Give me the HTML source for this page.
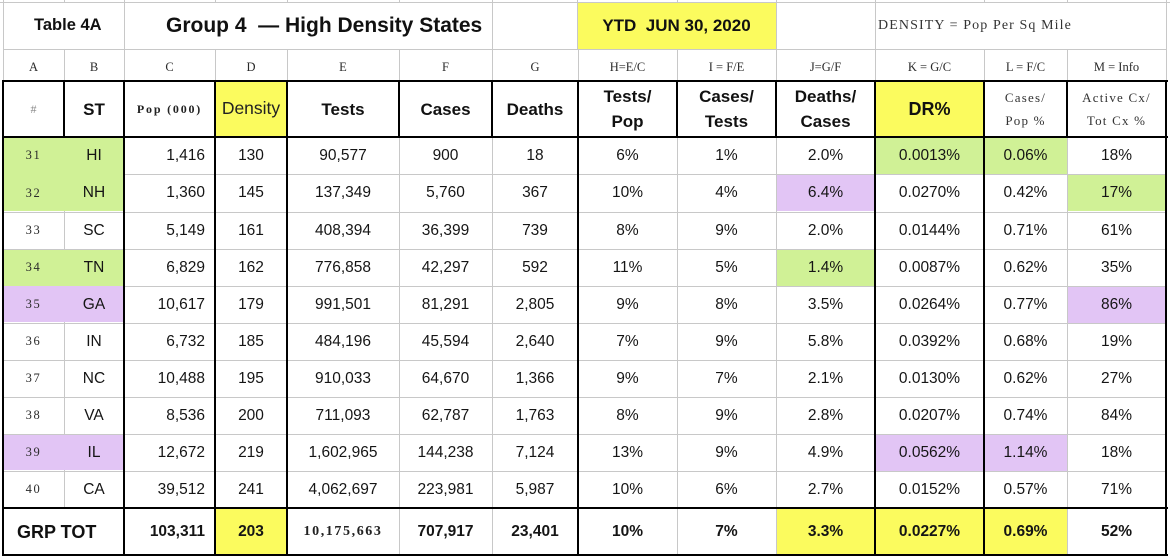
<!DOCTYPE html>
<html><head><meta charset="utf-8">
<style>
html,body{margin:0;padding:0;background:#fff;}
#w{position:relative;width:1170px;height:558px;overflow:hidden;background:#fff;}
.g{position:absolute;background:#c8c8c8;}
.k{position:absolute;background:#000;}
.f{position:absolute;}
.gr{background:#d0f196;}
.pu{background:#e2c5f5;}
.ye{background:#fbfb5e;}
.row{position:absolute;left:0;width:1170px;}
.c{position:absolute;top:0;bottom:0;display:flex;align-items:center;justify-content:center;font-family:"Liberation Sans",Arial,sans-serif;font-size:15.5px;color:#151515;white-space:nowrap;line-height:1;}
.rt{justify-content:flex-end;padding-right:10px;box-sizing:border-box;}
.A{left:3px;width:61px}.B{left:64px;width:60px}.C{left:124px;width:91px}.D{left:215px;width:72px}
.E{left:287px;width:112px}.F{left:399px;width:93px}.G{left:492px;width:86px}.H{left:578px;width:99px}
.I{left:677px;width:99px}.J{left:776px;width:99px}.K{left:875px;width:109px}.L{left:984px;width:83px}.M{left:1067px;width:99px}
.sn{font-family:"Liberation Serif","Times New Roman",serif;font-size:12.5px;letter-spacing:1.6px;color:#2a2a2a;}
.hb{font-weight:bold;font-size:17px;color:#111;}
.two{flex-direction:column;line-height:25px;}
.ser2{font-family:"Liberation Serif","Times New Roman",serif;font-size:13px;letter-spacing:1.2px;color:#333;flex-direction:column;line-height:23px;}
.tb{font-weight:bold;font-size:15.5px;}
.lt{font-family:"Liberation Serif","Times New Roman",serif;font-size:12.5px;color:#2a2a2a;padding-top:4px;box-sizing:border-box;}
</style></head><body><div id="w">

<!-- fills -->
<div class="f ye" style="left:578px;top:3px;width:198px;height:46px"></div>
<div class="f ye" style="left:216px;top:82px;width:70px;height:54px"></div>
<div class="f ye" style="left:876px;top:82px;width:108px;height:54px"></div>

<!-- gray grid lines -->
<div class="g" style="left:0;top:2px;width:1170px;height:1px"></div>
<div class="g" style="left:3px;top:0;width:1px;height:81px"></div>
<div class="g" style="left:64px;top:0;width:1px;height:3px"></div>
<div class="g" style="left:124px;top:0;width:1px;height:49px"></div>
<div class="g" style="left:215px;top:0;width:1px;height:3px"></div>
<div class="g" style="left:287px;top:0;width:1px;height:3px"></div>
<div class="g" style="left:399px;top:0;width:1px;height:3px"></div>
<div class="g" style="left:492px;top:0;width:1px;height:49px"></div>
<div class="g" style="left:577px;top:0;width:1px;height:49px"></div>
<div class="g" style="left:677px;top:0;width:1px;height:3px"></div>
<div class="g" style="left:776px;top:0;width:1px;height:49px"></div>
<div class="g" style="left:875px;top:0;width:1px;height:49px"></div>
<div class="g" style="left:984px;top:0;width:1px;height:3px"></div>
<div class="g" style="left:1067px;top:0;width:1px;height:3px"></div>
<div class="g" style="left:1166px;top:0;width:1px;height:81px"></div>
<div class="g" style="left:3px;top:49px;width:1164px;height:1px"></div>
<!-- letter row verticals -->
<div class="g" style="left:64px;top:49px;width:1px;height:32px"></div>
<div class="g" style="left:124px;top:49px;width:1px;height:32px"></div>
<div class="g" style="left:215px;top:49px;width:1px;height:32px"></div>
<div class="g" style="left:287px;top:49px;width:1px;height:32px"></div>
<div class="g" style="left:399px;top:49px;width:1px;height:32px"></div>
<div class="g" style="left:492px;top:49px;width:1px;height:32px"></div>
<div class="g" style="left:578px;top:49px;width:1px;height:32px"></div>
<div class="g" style="left:677px;top:49px;width:1px;height:32px"></div>
<div class="g" style="left:776px;top:49px;width:1px;height:32px"></div>
<div class="g" style="left:875px;top:49px;width:1px;height:32px"></div>
<div class="g" style="left:984px;top:49px;width:1px;height:32px"></div>
<div class="g" style="left:1067px;top:49px;width:1px;height:32px"></div>
<!-- data horizontals -->
<div class="g" style="left:3px;top:174px;width:1164px;height:1px"></div>
<div class="g" style="left:3px;top:212px;width:1164px;height:1px"></div>
<div class="g" style="left:3px;top:249px;width:1164px;height:1px"></div>
<div class="g" style="left:3px;top:286px;width:1164px;height:1px"></div>
<div class="g" style="left:3px;top:323px;width:1164px;height:1px"></div>
<div class="g" style="left:3px;top:360px;width:1164px;height:1px"></div>
<div class="g" style="left:3px;top:397px;width:1164px;height:1px"></div>
<div class="g" style="left:3px;top:434px;width:1164px;height:1px"></div>
<div class="g" style="left:3px;top:471px;width:1164px;height:1px"></div>
<!-- data verticals -->
<div class="g" style="left:64px;top:137px;width:1px;height:371px"></div>
<div class="g" style="left:399px;top:137px;width:1px;height:418px"></div>
<div class="g" style="left:492px;top:137px;width:1px;height:418px"></div>
<div class="g" style="left:677px;top:137px;width:1px;height:418px"></div>
<div class="g" style="left:776px;top:137px;width:1px;height:418px"></div>
<div class="g" style="left:1067px;top:137px;width:1px;height:418px"></div>

<!-- cell fills in data / total -->
<div class="f gr" style="left:4px;top:138px;width:119px;height:73px"></div>
<div class="f gr" style="left:4px;top:250px;width:119px;height:36px"></div>
<div class="f pu" style="left:4px;top:286px;width:119px;height:36px"></div>
<div class="f pu" style="left:4px;top:435px;width:119px;height:35px"></div>
<div class="f gr" style="left:876px;top:138px;width:108px;height:36px"></div>
<div class="f gr" style="left:985px;top:138px;width:82px;height:36px"></div>
<div class="f pu" style="left:777px;top:175px;width:98px;height:36px"></div>
<div class="f gr" style="left:1068px;top:175px;width:98px;height:36px"></div>
<div class="f gr" style="left:777px;top:250px;width:98px;height:36px"></div>
<div class="f pu" style="left:1068px;top:287px;width:98px;height:36px"></div>
<div class="f pu" style="left:876px;top:435px;width:108px;height:36px"></div>
<div class="f pu" style="left:985px;top:435px;width:82px;height:36px"></div>
<div class="f ye" style="left:216px;top:509px;width:70px;height:46px"></div>
<div class="f ye" style="left:777px;top:509px;width:98px;height:46px"></div>
<div class="f ye" style="left:876px;top:509px;width:108px;height:46px"></div>
<div class="f ye" style="left:985px;top:509px;width:82px;height:46px"></div>

<!-- black lines -->
<div class="k" style="left:2px;top:80px;width:1166px;height:2px"></div>
<div class="k" style="left:2px;top:136px;width:1166px;height:2px"></div>
<div class="k" style="left:2px;top:507px;width:1166px;height:2px"></div>
<div class="k" style="left:2px;top:554px;width:1166px;height:2px"></div>
<div class="k" style="left:2px;top:80px;width:2px;height:476px"></div>
<div class="k" style="left:123px;top:80px;width:2px;height:476px"></div>
<div class="k" style="left:214px;top:80px;width:2px;height:476px"></div>
<div class="k" style="left:286px;top:80px;width:2px;height:476px"></div>
<div class="k" style="left:577px;top:80px;width:2px;height:476px"></div>
<div class="k" style="left:874px;top:80px;width:2px;height:476px"></div>
<div class="k" style="left:983px;top:80px;width:2px;height:476px"></div>
<div class="k" style="left:1165px;top:80px;width:2px;height:476px"></div>
<div class="k" style="left:63px;top:80px;width:2px;height:57px"></div>
<div class="k" style="left:398px;top:80px;width:2px;height:57px"></div>
<div class="k" style="left:491px;top:80px;width:2px;height:57px"></div>
<div class="k" style="left:676px;top:80px;width:2px;height:57px"></div>
<div class="k" style="left:775px;top:80px;width:2px;height:57px"></div>
<div class="k" style="left:1066px;top:80px;width:2px;height:57px"></div>

<!-- title row -->
<div class="row" style="top:2px;height:47px">
  <div class="c" style="left:34px;justify-content:flex-start;font-weight:bold;font-size:16.5px;color:#111">Table 4A</div>
  <div class="c" style="left:166px;justify-content:flex-start;font-weight:bold;font-size:21px;color:#111">Group 4 &nbsp;— High Density States</div>
  <div class="c" style="left:577px;width:199px;font-weight:bold;font-size:17px;color:#111">YTD &nbsp;JUN 30, 2020</div>
  <div class="c" style="left:878px;justify-content:flex-start;font-family:'Liberation Serif','Times New Roman',serif;font-size:14px;letter-spacing:1.1px;color:#333">DENSITY = Pop Per Sq Mile</div>
</div>

<!-- letter row -->
<div class="row" style="top:49px;height:32px">
  <div class="c lt A">A</div><div class="c lt B">B</div><div class="c lt C">C</div><div class="c lt D">D</div>
  <div class="c lt E">E</div><div class="c lt F">F</div><div class="c lt G">G</div><div class="c lt H">H=E/C</div>
  <div class="c lt I">I = F/E</div><div class="c lt J">J=G/F</div><div class="c lt K">K = G/C</div>
  <div class="c lt L">L = F/C</div><div class="c lt M">M = Info</div>
</div>

<!-- header row -->
<div class="row" style="top:81px;height:56px">
  <div class="c A" style="font-family:'Liberation Serif',serif;font-size:12px;color:#888">#</div>
  <div class="c B hb">ST</div>
  <div class="c C" style="font-family:'Liberation Serif',serif;font-weight:bold;font-size:12px;letter-spacing:1.8px;color:#222">Pop (000)</div>
  <div class="c D" style="font-size:17.5px;color:#222">Density</div>
  <div class="c E hb">Tests</div>
  <div class="c F hb">Cases</div>
  <div class="c G hb">Deaths</div>
  <div class="c H hb two"><span>Tests/</span><span>Pop</span></div>
  <div class="c I hb two"><span>Cases/</span><span>Tests</span></div>
  <div class="c J hb two"><span>Deaths/</span><span>Cases</span></div>
  <div class="c K hb" style="font-size:18px">DR%</div>
  <div class="c L ser2"><span>Cases/</span><span>Pop %</span></div>
  <div class="c M ser2"><span>Active Cx/</span><span>Tot Cx %</span></div>
</div>

<!-- data rows -->
<div class="row" style="top:137px;height:37px">
  <div class="c A sn">31</div><div class="c B">HI</div><div class="c C rt">1,416</div><div class="c D">130</div>
  <div class="c E">90,577</div><div class="c F">900</div><div class="c G">18</div><div class="c H">6%</div>
  <div class="c I">1%</div><div class="c J">2.0%</div><div class="c K">0.0013%</div><div class="c L">0.06%</div><div class="c M">18%</div>
</div>
<div class="row" style="top:174px;height:38px">
  <div class="c A sn">32</div><div class="c B">NH</div><div class="c C rt">1,360</div><div class="c D">145</div>
  <div class="c E">137,349</div><div class="c F">5,760</div><div class="c G">367</div><div class="c H">10%</div>
  <div class="c I">4%</div><div class="c J">6.4%</div><div class="c K">0.0270%</div><div class="c L">0.42%</div><div class="c M">17%</div>
</div>
<div class="row" style="top:212px;height:37px">
  <div class="c A sn">33</div><div class="c B">SC</div><div class="c C rt">5,149</div><div class="c D">161</div>
  <div class="c E">408,394</div><div class="c F">36,399</div><div class="c G">739</div><div class="c H">8%</div>
  <div class="c I">9%</div><div class="c J">2.0%</div><div class="c K">0.0144%</div><div class="c L">0.71%</div><div class="c M">61%</div>
</div>
<div class="row" style="top:249px;height:37px">
  <div class="c A sn">34</div><div class="c B">TN</div><div class="c C rt">6,829</div><div class="c D">162</div>
  <div class="c E">776,858</div><div class="c F">42,297</div><div class="c G">592</div><div class="c H">11%</div>
  <div class="c I">5%</div><div class="c J">1.4%</div><div class="c K">0.0087%</div><div class="c L">0.62%</div><div class="c M">35%</div>
</div>
<div class="row" style="top:286px;height:37px">
  <div class="c A sn">35</div><div class="c B">GA</div><div class="c C rt">10,617</div><div class="c D">179</div>
  <div class="c E">991,501</div><div class="c F">81,291</div><div class="c G">2,805</div><div class="c H">9%</div>
  <div class="c I">8%</div><div class="c J">3.5%</div><div class="c K">0.0264%</div><div class="c L">0.77%</div><div class="c M">86%</div>
</div>
<div class="row" style="top:323px;height:37px">
  <div class="c A sn">36</div><div class="c B">IN</div><div class="c C rt">6,732</div><div class="c D">185</div>
  <div class="c E">484,196</div><div class="c F">45,594</div><div class="c G">2,640</div><div class="c H">7%</div>
  <div class="c I">9%</div><div class="c J">5.8%</div><div class="c K">0.0392%</div><div class="c L">0.68%</div><div class="c M">19%</div>
</div>
<div class="row" style="top:360px;height:37px">
  <div class="c A sn">37</div><div class="c B">NC</div><div class="c C rt">10,488</div><div class="c D">195</div>
  <div class="c E">910,033</div><div class="c F">64,670</div><div class="c G">1,366</div><div class="c H">9%</div>
  <div class="c I">7%</div><div class="c J">2.1%</div><div class="c K">0.0130%</div><div class="c L">0.62%</div><div class="c M">27%</div>
</div>
<div class="row" style="top:397px;height:37px">
  <div class="c A sn">38</div><div class="c B">VA</div><div class="c C rt">8,536</div><div class="c D">200</div>
  <div class="c E">711,093</div><div class="c F">62,787</div><div class="c G">1,763</div><div class="c H">8%</div>
  <div class="c I">9%</div><div class="c J">2.8%</div><div class="c K">0.0207%</div><div class="c L">0.74%</div><div class="c M">84%</div>
</div>
<div class="row" style="top:434px;height:37px">
  <div class="c A sn">39</div><div class="c B">IL</div><div class="c C rt">12,672</div><div class="c D">219</div>
  <div class="c E">1,602,965</div><div class="c F">144,238</div><div class="c G">7,124</div><div class="c H">13%</div>
  <div class="c I">9%</div><div class="c J">4.9%</div><div class="c K">0.0562%</div><div class="c L">1.14%</div><div class="c M">18%</div>
</div>
<div class="row" style="top:471px;height:37px">
  <div class="c A sn">40</div><div class="c B">CA</div><div class="c C rt">39,512</div><div class="c D">241</div>
  <div class="c E">4,062,697</div><div class="c F">223,981</div><div class="c G">5,987</div><div class="c H">10%</div>
  <div class="c I">6%</div><div class="c J">2.7%</div><div class="c K">0.0152%</div><div class="c L">0.57%</div><div class="c M">71%</div>
</div>

<!-- total row -->
<div class="row" style="top:508px;height:47px">
  <div class="c" style="left:17px;justify-content:flex-start;font-weight:bold;font-size:18px;color:#111">GRP TOT</div>
  <div class="c C rt tb">103,311</div>
  <div class="c D tb">203</div>
  <div class="c E" style="font-family:'Liberation Serif','Times New Roman',serif;font-weight:bold;font-size:14px;letter-spacing:1.6px;color:#222">10,175,663</div>
  <div class="c F tb">707,917</div>
  <div class="c G tb">23,401</div>
  <div class="c H tb">10%</div>
  <div class="c I tb">7%</div>
  <div class="c J tb">3.3%</div>
  <div class="c K tb">0.0227%</div>
  <div class="c L tb">0.69%</div>
  <div class="c M tb">52%</div>
</div>

</div></body></html>
